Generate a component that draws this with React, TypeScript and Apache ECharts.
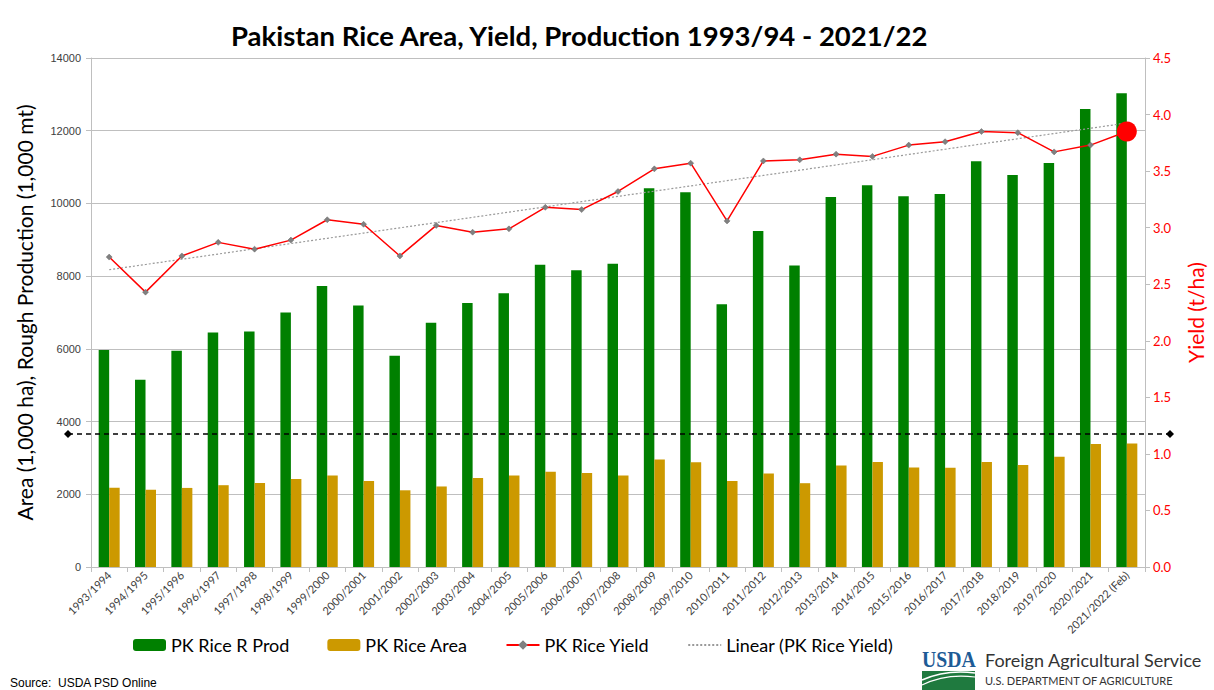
import React, { useEffect, useRef } from "react";
import * as echarts from "echarts";

const categories = [
  "1993/1994", "1994/1995", "1995/1996", "1996/1997", "1997/1998", "1998/1999",
  "1999/2000", "2000/2001", "2001/2002", "2002/2003", "2003/2004", "2004/2005",
  "2005/2006", "2006/2007", "2007/2008", "2008/2009", "2009/2010", "2010/2011",
  "2011/2012", "2012/2013", "2013/2014", "2014/2015", "2015/2016", "2016/2017",
  "2017/2018", "2018/2019", "2019/2020", "2020/2021", "2021/2022 (Feb)",
];

const production = [
  5970, 5150, 5950, 6450, 6480, 7000, 7730, 7190, 5810, 6720, 7260, 7530,
  8310, 8160, 8340, 10420, 10310, 7230, 9240, 8290, 10180, 10500, 10200,
  10260, 11160, 10780, 11110, 12600, 13030,
];

const area = [
  2180, 2125, 2175, 2250, 2310, 2420, 2520, 2365, 2110, 2215, 2445, 2520,
  2620, 2585, 2520, 2960, 2880, 2365, 2570, 2305, 2790, 2890, 2740, 2730,
  2890, 2805, 3030, 3385, 3400,
];

const yieldValues = [
  2.74, 2.43, 2.75, 2.87, 2.81, 2.89, 3.07, 3.03, 2.75, 3.02, 2.96, 2.99,
  3.18, 3.16, 3.32, 3.52, 3.57, 3.06, 3.59, 3.60, 3.65, 3.63, 3.73, 3.76,
  3.85, 3.84, 3.67, 3.73, 3.85,
];

const referenceLineValue = 3660;

const leftAxisMax = 14000;
const leftAxisInterval = 2000;
const rightAxisMax = 4.5;
const rightAxisInterval = 0.5;

const legendNames = ["PK Rice R Prod", "PK Rice Area", "PK Rice Yield", "Linear (PK Rice Yield)"];

function linearTrend(values: number[]): number[] {
  const n = values.length;
  const xm = (n - 1) / 2;
  const ym = values.reduce((a, b) => a + b, 0) / n;
  let num = 0;
  let den = 0;
  values.forEach((v, i) => {
    num += (i - xm) * (v - ym);
    den += (i - xm) * (i - xm);
  });
  const slope = num / den;
  return values.map((_, i) => +(ym + slope * (i - xm)).toFixed(4));
}

const FONT = "Lato, 'Open Sans', sans-serif";

export default function App() {
  const ref = useRef<HTMLDivElement>(null);

  useEffect(() => {
    if (!ref.current) return;
    const chart = echarts.init(ref.current, undefined, { renderer: "svg" });
    const trend = linearTrend(yieldValues);
    const yieldData = yieldValues.map((v, i) =>
      i === yieldValues.length - 1
        ? { value: v, symbol: "circle", symbolSize: 20, itemStyle: { color: "#ff0000", borderWidth: 0 } }
        : v
    );

    chart.setOption({
      animation: false,
      backgroundColor: "#ffffff",
      title: {
        text: "Pakistan Rice Area, Yield, Production 1993/94 - 2021/22",
        left: 226,
        top: 16,
        textStyle: { fontSize: 27.5, fontWeight: "bold", color: "#000", fontFamily: FONT },
      },
      legend: {
        data: [
          legendNames[0],
          legendNames[1],
          { name: legendNames[2], itemStyle: { borderWidth: 0 } },
          { name: legendNames[3], itemStyle: { opacity: 0 } },
        ],
        left: 128,
        top: 631,
        itemWidth: 33,
        itemHeight: 12,
        itemGap: 38,
        textStyle: { fontSize: 18, color: "#000", fontFamily: FONT },
      },
      grid: { left: 91, right: 63, top: 58, bottom: 123, containLabel: false },
      xAxis: {
        type: "category",
        data: categories,
        boundaryGap: true,
        axisLine: { lineStyle: { color: "#bfbfbf" } },
        axisTick: { show: true, alignWithLabel: false, length: 5, lineStyle: { color: "#bfbfbf" } },
        axisLabel: { interval: 0, rotate: 45, fontSize: 11, color: "#404040", fontFamily: FONT, margin: 6 },
      },
      yAxis: [
        {
          type: "value",
          min: 0,
          max: leftAxisMax,
          interval: leftAxisInterval,
          name: "Area (1,000 ha), Rough Production (1,000 mt)",
          nameLocation: "middle",
          nameRotate: 90,
          nameGap: 56,
          nameTextStyle: { fontSize: 21, color: "#000", fontFamily: FONT },
          axisLine: { show: true, lineStyle: { color: "#bfbfbf" } },
          axisTick: { show: true, length: 5, lineStyle: { color: "#bfbfbf" } },
          splitLine: { show: true, lineStyle: { color: "#bfbfbf", width: 1 } },
          axisLabel: {
            fontSize: 11,
            color: "#404040",
            fontFamily: "'Liberation Sans', Arial, sans-serif",
            margin: 10,
            formatter: (v: number) => String(v),
          },
        },
        {
          type: "value",
          min: 0,
          max: rightAxisMax,
          interval: rightAxisInterval,
          position: "right",
          name: "Yield (t/ha)",
          nameLocation: "middle",
          nameRotate: 90,
          nameGap: 40,
          nameTextStyle: { fontSize: 21, color: "#ff0000", fontFamily: FONT },
          axisLine: { show: true, lineStyle: { color: "#bfbfbf" } },
          axisTick: { show: true, length: 5, lineStyle: { color: "#bfbfbf" } },
          splitLine: { show: false },
          axisLabel: {
            fontSize: 13,
            color: "#ff0000",
            fontFamily: FONT,
            margin: 8,
            formatter: (v: number) => v.toFixed(1),
          },
        },
      ],
      series: [
        {
          name: legendNames[0],
          type: "bar",
          data: production,
          barWidth: 10.5,
          barGap: "0%",
          itemStyle: { color: "#008000" },
        },
        {
          name: legendNames[1],
          type: "bar",
          data: area,
          barWidth: 10.5,
          barGap: "0%",
          itemStyle: { color: "#cc9900" },
        },
        {
          name: legendNames[2],
          type: "line",
          yAxisIndex: 1,
          data: yieldData,
          symbol: "diamond",
          symbolSize: 6,
          itemStyle: { color: "#808080", borderColor: "#6b6b6b", borderWidth: 0.5 },
          lineStyle: { color: "#ff0000", width: 1.5 },
          z: 5,
        },
        {
          name: legendNames[3],
          type: "line",
          yAxisIndex: 1,
          data: trend,
          symbol: "none",
          itemStyle: { color: "#999999" },
          lineStyle: { color: "#999999", width: 1.2, type: [2, 2] },
          z: 4,
        },
      ],
    });

    const yPix = chart.convertToPixel({ yAxisIndex: 0 }, referenceLineValue) as number;
    const diamond = (cx: number, cy: number) => ({
      type: "polygon",
      shape: { points: [[cx, cy - 4], [cx + 4, cy], [cx, cy + 4], [cx - 4, cy]] },
      style: { fill: "#000" },
      z: 10,
    });

    chart.setOption({
      graphic: [
        {
          type: "line",
          shape: { x1: 68, y1: yPix, x2: 1170, y2: yPix },
          style: { stroke: "#000", lineWidth: 1.5, lineDash: [5, 4] },
          z: 10,
        },
        diamond(68, yPix),
        diamond(1170, yPix),
        {
          type: "text",
          left: 10,
          top: 677,
          style: { text: "Source:  USDA PSD Online", font: "12px 'Liberation Sans', Arial, sans-serif", fill: "#000" },
        },
        {
          type: "text",
          x: 922,
          y: 648,
          scaleX: 0.86,
          style: { text: "USDA", font: "bold 23px 'Liberation Serif', serif", fill: "#1d5b96" },
        },
        {
          type: "rect",
          shape: { x: 922, y: 671, width: 53, height: 19 },
          style: { fill: "#1f7a3f" },
        },
        {
          type: "bezierCurve",
          shape: { x1: 922, y1: 680, cpx1: 940, cpy1: 672, cpx2: 960, cpy2: 671, x2: 975, y2: 673 },
          style: { stroke: "#ffffff", lineWidth: 1.5, fill: null },
        },
        {
          type: "bezierCurve",
          shape: { x1: 922, y1: 685, cpx1: 940, cpy1: 676, cpx2: 960, cpy2: 675, x2: 975, y2: 677 },
          style: { stroke: "#ffffff", lineWidth: 1.2, fill: null },
        },
        {
          type: "text",
          x: 985,
          y: 651,
          style: { text: "Foreign Agricultural Service", font: "18px Lato, 'Open Sans', sans-serif", fill: "#333" },
        },
        {
          type: "text",
          x: 985,
          y: 675,
          style: { text: "U.S. DEPARTMENT OF AGRICULTURE", font: "11px Lato, 'Open Sans', sans-serif", fill: "#333" },
        },
      ],
    });

    return () => chart.dispose();
  }, []);

  return (
    <div
      ref={ref}
      style={{ position: "fixed", left: 0, top: 0, width: 1214, height: 690, background: "#fff" }}
    />
  );
}
